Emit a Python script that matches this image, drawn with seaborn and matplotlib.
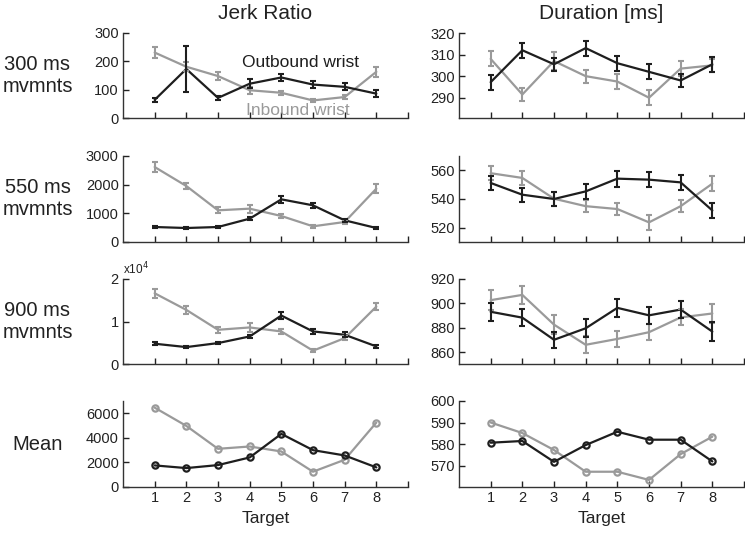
import numpy as np
import pandas as pd
import seaborn as sns
import matplotlib.pyplot as plt

# --- Data ---
targets = [1, 2, 3, 4, 5, 6, 7, 8]
conditions = ["300 ms\nmvmnts", "550 ms\nmvmnts", "900 ms\nmvmnts", "Mean"]

# Jerk ratio
jerk_out = [
    [64, 173, 71, 121, 143, 118, 110, 86],
    [523, 488, 523, 814, 1488, 1279, 756, 488],
    [4770, 3980, 4920, 6480, 11400, 7660, 6880, 4140],
    [1757, 1540, 1784, 2405, 4324, 3000, 2568, 1595],
]
jerk_out_err = [
    [8, 82, 8, 15, 12, 12, 12, 12],
    [40, 40, 40, 60, 120, 80, 60, 40],
    [300, 250, 300, 400, 800, 500, 600, 300],
]
jerk_in = [
    [231, 181, 148, 98, 89, 62, 74, 163],
    [2616, 1953, 1105, 1163, 907, 547, 698, 1860],
    [16640, 12730, 8050, 8600, 7660, 3130, 6090, 13500],
    [6460, 4973, 3108, 3297, 2892, 1243, 2216, 5243],
]
jerk_in_err = [
    [20, 15, 13, 12, 8, 5, 6, 18],
    [170, 110, 100, 140, 80, 50, 60, 160],
    [1000, 900, 700, 1100, 600, 300, 400, 900],
]

# Duration [ms]
dur_out = [
    [297.2, 312, 305.5, 313, 306, 302, 298, 305.5],
    [551.2, 543, 540, 545.3, 554.2, 553.5, 551.6, 532],
    [893.2, 888.4, 870.3, 879.7, 896.4, 890.3, 895, 877],
    [580.6, 581.4, 571.7, 579.5, 585.7, 582, 582, 571.9],
]
dur_out_err = [
    [3.5, 3.5, 3, 3.5, 3.5, 3.5, 3, 3.5],
    [5, 5, 5, 5, 5.5, 5, 5, 5],
    [7.5, 7, 6.5, 7.5, 7.5, 7, 7, 7.5],
]
dur_in = [
    [308, 291.5, 307, 300, 297.5, 290, 303.5, 305],
    [558, 554.7, 540.2, 535, 533, 523.7, 535, 550.7],
    [902.7, 907, 882.7, 866.2, 871, 876.5, 888.6, 891.8],
    [590, 585.1, 577.2, 567.1, 567.1, 563.3, 575.3, 583.4],
]
dur_in_err = [
    [3.5, 3, 4, 3, 3.5, 3.5, 3.5, 3],
    [5, 5, 5, 4, 4, 5, 4, 5],
    [8, 7.5, 8, 7, 6.5, 6.5, 6.5, 8],
]

jerk_ylim = [(0, 300), (0, 3000), (0, 20000), (0, 7000)]
jerk_yticks = [[0, 100, 200, 300], [0, 1000, 2000, 3000], [0, 10000, 20000], [0, 2000, 4000, 6000]]
dur_ylim = [(280.6, 320), (510, 570), (850.5, 920), (560, 600)]
dur_yticks = [[290, 300, 310, 320], [520, 540, 560], [860, 880, 900, 920], [570, 580, 590, 600]]

# --- Style ---
sns.set_style("ticks")
plt.rcParams['font.family'] = ['Liberation Sans', 'DejaVu Sans']
OUT_C = '#1e1e1e'
IN_C = '#9a9a9a'

fig = plt.figure(figsize=(7.45, 5.33), dpi=100)
W = 745.0
H = 533.0
col_left = [123 / W, 459 / W]
col_w = 285 / W
row_px = [(33, 118), (156, 242), (279, 364), (401, 487)]


def draw(ax, out_vals, in_vals, out_err, in_err, mean_row):
    df = pd.DataFrame({
        'Target': targets * 2,
        'value': list(in_vals) + list(out_vals),
        'group': ['Inbound'] * 8 + ['Outbound'] * 8,
    })
    marker = 'o' if mean_row else None
    sns.lineplot(data=df, x='Target', y='value', hue='group',
                 palette={'Inbound': IN_C, 'Outbound': OUT_C},
                 linewidth=1.6, legend=False, ax=ax, marker=marker,
                 markersize=4.5, markerfacecolor='none', markeredgewidth=1.6)
    if mean_row:
        for line, col in zip(ax.lines, [IN_C, OUT_C]):
            line.set_markeredgecolor(col)
    else:
        ax.errorbar(targets, in_vals, yerr=in_err, fmt='none', ecolor=IN_C,
                    elinewidth=1.5, capsize=2.2, capthick=1.5)
        ax.errorbar(targets, out_vals, yerr=out_err, fmt='none', ecolor=OUT_C,
                    elinewidth=1.5, capsize=2.2, capthick=1.5)


for r in range(4):
    top, bot = row_px[r]
    bottom = 1 - bot / H
    height = (bot - top) / H
    for c in range(2):
        ax = fig.add_axes([col_left[c], bottom, col_w, height])
        if c == 0:
            out_v, in_v = jerk_out[r], jerk_in[r]
            out_e = jerk_out_err[r] if r < 3 else None
            in_e = jerk_in_err[r] if r < 3 else None
            ylim, yticks = jerk_ylim[r], jerk_yticks[r]
        else:
            out_v, in_v = dur_out[r], dur_in[r]
            out_e = dur_out_err[r] if r < 3 else None
            in_e = dur_in_err[r] if r < 3 else None
            ylim, yticks = dur_ylim[r], dur_yticks[r]
        draw(ax, out_v, in_v, out_e, in_e, r == 3)

        ax.set_xlim(0, 9)
        ax.set_ylim(*ylim)
        ax.set_yticks(yticks)
        if c == 0 and r == 2:
            ax.set_yticklabels([f"{v / 10000:g}" for v in yticks])
            ax.text(0.0, 1.02, r"x10$^4$", transform=ax.transAxes,
                    fontsize=8.5, color='#222222', ha='left', va='bottom')
        else:
            ax.set_yticklabels([f"{v:g}" for v in yticks])
        ax.set_xticks(list(range(1, 10)))
        if r == 3:
            ax.set_xticklabels([str(t) for t in targets] + [''])
            ax.set_xlabel('Target', fontsize=12.5, color='#222222')
        else:
            ax.set_xticklabels([])
            ax.set_xlabel('')
        ax.set_ylabel('')
        ax.tick_params(direction='in', length=4, width=1, labelsize=10.5,
                       colors='#222222', pad=3)
        ax.spines['top'].set_visible(False)
        ax.spines['right'].set_visible(False)
        for s in ['left', 'bottom']:
            ax.spines[s].set_linewidth(1)
            ax.spines[s].set_color('#333333')
        ax.patch.set_alpha(0)

        if r == 0:
            ax.set_title('Jerk Ratio' if c == 0 else 'Duration [ms]',
                         fontsize=15, color='#222222', pad=10)
        if c == 0:
            ax.text(-0.3, 0.5, conditions[r], transform=ax.transAxes,
                    fontsize=14.5, color='#222222', ha='center', va='center',
                    linespacing=1.2)
        if r == 0 and c == 0:
            ax.text(5.6, 196, 'Outbound wrist', color=OUT_C, fontsize=12.5,
                    ha='center', va='center')
            ax.text(5.52, 25, 'Inbound wrist', color=IN_C, fontsize=12.5,
                    ha='center', va='center')

fig.savefig('out.png', dpi=100)
